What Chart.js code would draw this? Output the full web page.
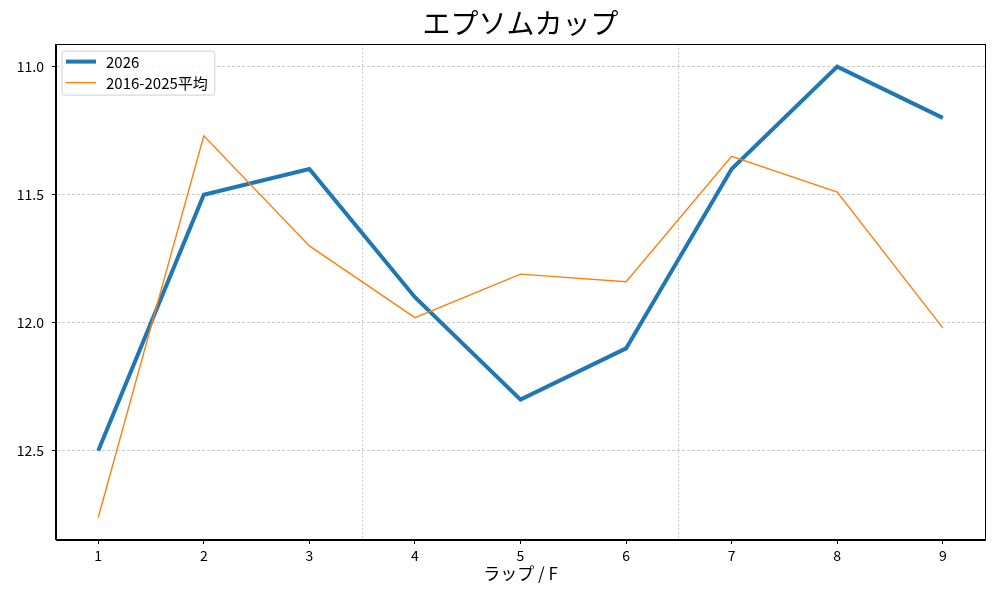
<!DOCTYPE html>
<html>
<head>
  <meta charset="utf-8">
  <title>エプソムカップ</title>
  <style>
    body { margin: 0; background: #ffffff; }
    #wrap { width: 1000px; height: 600px; }
  </style>
</head>
<body>
  <div id="wrap"><canvas id="chart" width="1000" height="600"></canvas></div>

  <script src="https://cdn.jsdelivr.net/npm/chart.js"></script>
  <script>
    // データ
    var laps = [1, 2, 3, 4, 5, 6, 7, 8, 9];
    var lap2026 = [12.5, 11.5, 11.4, 11.9, 12.3, 12.1, 11.4, 11.0, 11.2];
    var lapAvg = [12.76, 11.27, 11.70, 11.98, 11.81, 11.84, 11.35, 11.49, 12.02];
    var yTicks = [11.0, 11.5, 12.0, 12.5];
    var sectionLines = [3.5, 6.5];
    var seriesNames = ['2026', '2016-2025平均'];

    var FONT = '"Noto Sans CJK JP", "Noto Sans", sans-serif';
    Chart.defaults.font.family = FONT;
    Chart.defaults.color = '#000';

    function toPoints(values) {
      return laps.map(function (l, i) { return { x: l, y: values[i] }; });
    }

    // matplotlib と同じ 5% の余白
    var allY = lap2026.concat(lapAvg);
    var yLo = Math.min.apply(null, allY), yHi = Math.max.apply(null, allY);
    var yPad = (yHi - yLo) * 0.05;
    var xPad = (laps[laps.length - 1] - laps[0]) * 0.05;

    function isLap(v) { return Math.abs(v - Math.round(v)) < 1e-9; }

    var framePlugin = {
      id: 'frame',
      afterDraw: function (chart) {
        var a = chart.chartArea, ctx = chart.ctx;
        ctx.save();
        ctx.strokeStyle = '#000';
        ctx.lineWidth = 1;
        ctx.strokeRect(Math.round(a.left) - 0.5, Math.round(a.top) + 0.5,
          Math.round(a.right - a.left) + 1, Math.round(a.bottom - a.top) - 1);
        ctx.restore();
      }
    };

    var boxLegend = {
      id: 'boxLegend',
      afterDraw: function (chart) {
        var a = chart.chartArea, ctx = chart.ctx;
        var x = a.left + 6, y = a.top + 7;
        ctx.save();
        ctx.font = '15px ' + FONT;
        var maxW = 0;
        chart.data.datasets.forEach(function (ds) {
          maxW = Math.max(maxW, ctx.measureText(ds.label).width);
        });
        var w = 44 + maxW + 7, h = 44, r = 3;
        ctx.beginPath();
        ctx.moveTo(x + r, y);
        ctx.arcTo(x + w, y, x + w, y + h, r);
        ctx.arcTo(x + w, y + h, x, y + h, r);
        ctx.arcTo(x, y + h, x, y, r);
        ctx.arcTo(x, y, x + w, y, r);
        ctx.closePath();
        ctx.fillStyle = 'rgba(255,255,255,0.8)';
        ctx.fill();
        ctx.strokeStyle = '#d0d0d0';
        ctx.lineWidth = 1;
        ctx.stroke();

        chart.data.datasets.forEach(function (ds, i) {
          var cy = y + 10.5 + i * 21;
          ctx.beginPath();
          ctx.moveTo(x + 4, cy);
          ctx.lineTo(x + 34, cy);
          ctx.strokeStyle = ds.borderColor;
          ctx.lineWidth = ds.borderWidth;
          ctx.stroke();
          ctx.fillStyle = '#000';
          ctx.textBaseline = 'middle';
          ctx.fillText(ds.label, x + 44, cy + 1);
        });
        ctx.restore();
      }
    };

    new Chart(document.getElementById('chart'), {
      type: 'line',
      data: {
        datasets: [{
          label: seriesNames[0],
          data: toPoints(lap2026),
          borderColor: '#1f77b4',
          borderWidth: 4,
          pointRadius: 0,
          tension: 0,
          order: 2
        }, {
          label: seriesNames[1],
          data: toPoints(lapAvg),
          borderColor: '#ff7f0e',
          borderWidth: 1.4,
          pointRadius: 0,
          tension: 0,
          order: 1
        }]
      },
      options: {
        responsive: false,
        animation: false,
        devicePixelRatio: 1,
        layout: { padding: { left: 0, right: 15, top: 0, bottom: 0 } },
        plugins: {
          legend: { display: false },
          tooltip: { enabled: false },
          title: {
            display: true,
            fullSize: false, // プロット領域の中央に置く
            text: 'エプソムカップ',
            font: { size: 28, weight: 'normal' },
            color: '#000',
            padding: { top: 6.5, bottom: 4 }
          }
        },
        scales: {
          x: {
            type: 'linear',
            min: laps[0] - xPad,
            max: laps[laps.length - 1] + xPad,
            afterBuildTicks: function (scale) {
              scale.ticks = laps.concat(sectionLines).sort(function (a, b) { return a - b; })
                .map(function (v) { return { value: v }; });
            },
            afterFit: function (scale) { scale.height = 60; },
            ticks: {
              autoSkip: false,
              maxRotation: 0,
              padding: 3,
              font: { size: 14 },
              callback: function (v) { return isLap(v) ? String(v) : ''; }
            },
            grid: {
              color: function (c) { return c.tick && !isLap(c.tick.value) ? 'rgba(0,0,0,0.3)' : 'rgba(0,0,0,0)'; },
              lineWidth: 0.7,
              tickLength: 4,
              tickWidth: 1,
              tickColor: function (c) { return c.tick && isLap(c.tick.value) ? '#000' : 'rgba(0,0,0,0)'; }
            },
            border: { display: true, color: '#000', width: 1, dash: [2, 2] },
            title: {
              display: true,
              text: 'ラップ / F',
              font: { size: 17 },
              color: '#000',
              padding: { top: 0, bottom: 16 }
            }
          },
          y: {
            type: 'linear',
            reverse: true,
            min: yLo - yPad,
            max: yHi + yPad,
            afterBuildTicks: function (scale) {
              scale.ticks = yTicks.map(function (v) { return { value: v }; });
            },
            afterFit: function (scale) { scale.width = 56; },
            ticks: {
              padding: 8,
              font: { size: 14 },
              callback: function (v) { return v.toFixed(1); }
            },
            grid: {
              color: 'rgba(0,0,0,0.3)',
              lineWidth: 0.7,
              tickLength: 4,
              tickWidth: 1,
              tickColor: '#000'
            },
            border: { display: true, color: '#000', width: 1, dash: [3, 2] }
          }
        }
      },
      plugins: [framePlugin, boxLegend]
    });
  </script>
</body>
</html>
